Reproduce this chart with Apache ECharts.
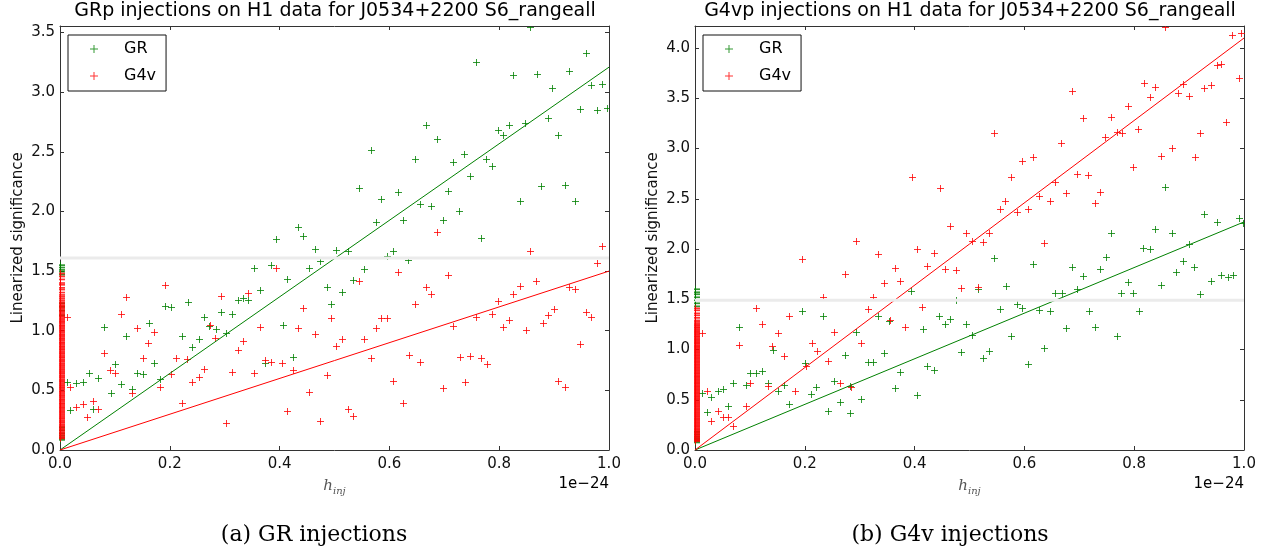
<!DOCTYPE html>
<html><head><meta charset="utf-8">
<script src="https://cdn.jsdelivr.net/npm/echarts@6/dist/echarts.min.js"></script>
<style>html,body{margin:0;padding:0;background:#fff}#c{width:1261px;height:550px}</style>
</head><body><div id="c"></div>
<script>
// ---------- data (h_inj in units of 1e-24, linearized significance) ----------
const xTicks = [0.0, 0.2, 0.4, 0.6, 0.8, 1.0];
const titleA = 'GRp injections on H1 data for J0534+2200 S6_rangeall';
const titleB = 'G4vp injections on H1 data for J0534+2200 S6_rangeall';
const captionA = '(a) GR injections';
const captionB = '(b) G4v injections';
const yMaxA = 3.555, yMaxB = 4.22;
const fitA = {GR: 3.21, G4v: 1.50};
const fitB = {GR: 2.27, G4v: 4.10};
const threshA = 1.61, threshB = 1.49;

// panel (a) GR injections
const aGR = [[0.434,1.87],[0.393,1.773],[0.443,1.792],[0.464,1.686],[0.474,1.583],[0.502,1.68],[0.353,1.53],[0.384,1.555],[0.454,1.53],[0.414,1.435],[0.486,1.368],[0.364,1.34],[0.324,1.256],[0.333,1.276],[0.343,1.256],[0.233,1.242],[0.191,1.206],[0.202,1.195],[0.293,1.159],[0.313,1.139],[0.263,1.117],[0.272,1.039],[0.284,1.011],[0.162,1.066],[0.081,1.033],[0.406,1.047],[0.494,1.22],[0.302,0.977],[0.222,0.955],[0.121,0.958],[0.253,0.927],[0.241,0.86],[0.100,0.72],[0.172,0.731],[0.424,0.782],[0.373,0.731],[0.052,0.648],[0.070,0.606],[0.141,0.648],[0.152,0.634],[0.012,0.572],[0.030,0.564],[0.041,0.572],[0.111,0.553],[0.132,0.508],[0.092,0.48],[0.183,0.592],[0.019,0.335],[0.061,0.341],
[0.959,3.328],[0.757,3.252],[0.826,3.146],[0.868,3.155],[0.928,3.177],[0.897,3.037],[0.968,3.063],[0.988,3.065],[0.996,2.867],[0.947,2.859],[0.978,2.848],[0.888,2.786],[0.666,2.728],[0.817,2.722],[0.847,2.744],[0.798,2.686],[0.807,2.638],[0.908,2.638],[0.686,2.61],[0.566,2.518],[0.647,2.437],[0.716,2.415],[0.736,2.479],[0.776,2.437],[0.787,2.379],[0.747,2.295],[0.545,2.2],[0.616,2.164],[0.877,2.214],[0.919,2.219],[0.585,2.105],[0.706,2.172],[0.838,2.088],[0.938,2.088],[0.656,2.06],[0.675,2.049],[0.727,2.007],[0.576,1.912],[0.625,1.926],[0.697,1.926],[0.767,1.778],[0.525,1.669],[0.595,1.628],[0.606,1.669],[0.634,1.597],[0.554,1.521],[0.534,1.424],[0.514,1.326],[0.856,3.546]];
const aG4v = [[0.191,1.382],[0.120,1.279],[0.293,1.293],[0.342,1.32],[0.393,1.522],[0.012,1.117],[0.111,1.139],[0.141,1.027],[0.172,0.991],[0.273,1.047],[0.364,1.033],[0.434,1.019],[0.443,1.187],[0.464,0.969],[0.494,1.108],[0.161,0.899],[0.282,0.941],[0.333,0.916],[0.324,0.838],[0.081,0.81],[0.152,0.768],[0.211,0.768],[0.231,0.759],[0.373,0.754],[0.384,0.74],[0.404,0.731],[0.091,0.67],[0.100,0.642],[0.263,0.678],[0.313,0.656],[0.353,0.642],[0.424,0.67],[0.202,0.637],[0.486,0.628],[0.019,0.525],[0.253,0.609],[0.241,0.567],[0.182,0.53],[0.132,0.48],[0.454,0.489],[0.061,0.413],[0.030,0.363],[0.041,0.385],[0.070,0.341],[0.050,0.274],[0.222,0.396],[0.414,0.329],[0.302,0.223],[0.474,0.246],[0.503,0.875],
[0.686,1.829],[0.856,1.667],[0.988,1.709],[0.978,1.569],[0.616,1.494],[0.706,1.466],[0.545,1.415],[0.666,1.368],[0.675,1.312],[0.867,1.418],[0.838,1.374],[0.826,1.307],[0.928,1.368],[0.938,1.354],[0.647,1.22],[0.798,1.251],[0.585,1.103],[0.595,1.103],[0.757,1.117],[0.787,1.139],[0.899,1.181],[0.888,1.131],[0.958,1.159],[0.968,1.111],[0.576,1.027],[0.716,1.041],[0.807,1.033],[0.817,1.089],[0.848,1.005],[0.879,1.066],[0.514,0.927],[0.554,0.93],[0.947,0.888],[0.566,0.768],[0.635,0.796],[0.656,0.74],[0.728,0.776],[0.747,0.79],[0.767,0.768],[0.777,0.72],[0.606,0.581],[0.737,0.572],[0.697,0.522],[0.908,0.581],[0.919,0.525],[0.625,0.396],[0.525,0.341],[0.534,0.285]];
// points at h_inj = 0 (significance values only)
const aGR0 = [1.55,1.53,1.51,1.495,1.47,1.23,1.2,1.17,1.13,0.19,0.165,0.14,0.12,0.1,0.085];
const aG4v0 = [1.48,1.455,1.43,1.40,1.385,1.36,1.345,1.32,1.30,1.285,1.27,1.255,1.24,1.228,1.215,1.206,1.194,1.183,1.17,1.161,1.149,1.138,1.125,1.116,1.104,1.092,1.081,1.072,1.06,1.047,1.038,1.026,1.015,1.003,0.994,0.982,0.969,0.961,0.949,0.937,0.928,0.916,0.903,0.895,0.883,0.871,0.862,0.849,0.84,0.828,0.816,0.807,0.795,0.782,0.774,0.761,0.75,0.741,0.728,0.717,0.706,0.695,0.683,0.672,0.661,0.649,0.64,0.627,0.616,0.606,0.593,0.582,0.573,0.561,0.549,0.538,0.527,0.517,0.505,0.493,0.484,0.471,0.46,0.45,0.438,0.426,0.417,0.405,0.393,0.384,0.371,0.36,0.351,0.338,0.327,0.317,0.305,0.294,0.283,0.271,0.262,0.25,0.238,0.229,0.216,0.205,0.195,0.183,0.172,0.162,0.15,0.139,0.13,0.117,0.106,0.097];

// panel (b) G4v injections
const bGR = [[0.393,1.582],[0.194,1.383],[0.233,1.333],[0.333,1.333],[0.353,1.287],[0.081,1.221],[0.294,1.177],[0.415,1.201],[0.444,1.333],[0.455,1.254],[0.464,1.3],[0.494,1.254],[0.142,0.995],[0.274,0.945],[0.201,0.862],[0.315,0.879],[0.324,0.879],[0.344,0.962],[0.485,0.978],[0.423,0.836],[0.435,0.796],[0.374,0.773],[0.100,0.77],[0.112,0.77],[0.122,0.786],[0.070,0.663],[0.092,0.647],[0.133,0.663],[0.162,0.647],[0.253,0.687],[0.152,0.587],[0.221,0.624],[0.212,0.554],[0.283,0.637],[0.042,0.587],[0.051,0.607],[0.012,0.57],[0.030,0.531],[0.061,0.441],[0.364,0.614],[0.405,0.547],[0.171,0.458],[0.264,0.481],[0.303,0.504],[0.021,0.375],[0.242,0.391],[0.283,0.371],[0.476,1.49],
[0.856,2.614],[0.928,2.345],[0.950,2.265],[0.990,2.305],[0.999,2.255],[0.757,2.156],[0.838,2.199],[0.868,2.163],[0.816,2.007],[0.828,1.997],[0.900,2.046],[0.545,1.907],[0.616,1.847],[0.748,1.917],[0.888,1.884],[0.686,1.818],[0.737,1.798],[0.707,1.731],[0.877,1.774],[0.909,1.818],[0.788,1.668],[0.940,1.682],[0.959,1.741],[0.970,1.718],[0.980,1.741],[0.566,1.635],[0.516,1.602],[0.656,1.566],[0.668,1.566],[0.696,1.602],[0.776,1.566],[0.798,1.566],[0.848,1.642],[0.920,1.552],[0.556,1.4],[0.586,1.449],[0.596,1.41],[0.627,1.393],[0.646,1.383],[0.718,1.383],[0.808,1.383],[0.505,1.144],[0.576,1.134],[0.676,1.211],[0.728,1.221],[0.768,1.134],[0.636,1.018],[0.525,0.919],[0.536,0.985],[0.606,0.852]];
const bG4v = [[0.395,2.713],[0.446,2.61],[0.464,2.232],[0.494,2.156],[0.294,2.08],[0.194,1.897],[0.404,1.997],[0.333,1.95],[0.435,1.963],[0.423,1.834],[0.455,1.798],[0.475,1.791],[0.274,1.751],[0.364,1.808],[0.344,1.658],[0.374,1.685],[0.485,1.609],[0.233,1.519],[0.324,1.519],[0.315,1.4],[0.414,1.426],[0.112,1.41],[0.171,1.333],[0.122,1.254],[0.355,1.294],[0.383,1.227],[0.253,1.177],[0.152,1.167],[0.012,1.161],[0.213,1.068],[0.081,1.045],[0.141,1.035],[0.222,0.985],[0.303,1.061],[0.163,0.939],[0.243,0.886],[0.203,0.839],[0.183,0.59],[0.101,0.663],[0.133,0.64],[0.264,0.67],[0.284,0.624],[0.022,0.587],[0.092,0.438],[0.041,0.391],[0.051,0.332],[0.061,0.332],[0.030,0.292],[0.070,0.242],
[0.979,4.129],[0.995,4.146],[0.856,4.206],[0.950,3.831],[0.959,3.841],[0.990,3.698],[0.818,3.655],[0.838,3.609],[0.828,3.509],[0.888,3.642],[0.879,3.556],[0.899,3.522],[0.928,3.605],[0.940,3.632],[0.686,3.572],[0.788,3.423],[0.707,3.307],[0.757,3.317],[0.807,3.191],[0.968,3.264],[0.545,3.151],[0.747,3.111],[0.768,3.161],[0.777,3.151],[0.920,3.158],[0.667,3.051],[0.868,3.008],[0.848,2.929],[0.910,2.912],[0.596,2.876],[0.616,2.919],[0.798,2.819],[0.576,2.72],[0.696,2.743],[0.716,2.736],[0.656,2.663],[0.627,2.531],[0.737,2.564],[0.676,2.561],[0.565,2.481],[0.646,2.478],[0.728,2.454],[0.556,2.395],[0.586,2.365],[0.606,2.395],[0.504,2.083],[0.525,2.073],[0.536,2.156],[0.636,2.056],[0.515,1.619]];
const bGR0 = [1.6,1.57,1.55,1.52,1.49,1.46,1.43,0.18,0.155,0.13,0.11,0.09,0.075];
const bG4v0 = [1.41,1.39,1.36,1.34,1.315,1.29,1.275,1.26,1.247,1.236,1.223,1.214,1.201,1.19,1.178,1.169,1.156,1.145,1.133,1.124,1.111,1.1,1.09,1.078,1.067,1.057,1.044,1.033,1.023,1.011,1.0,0.99,0.978,0.968,0.956,0.945,0.935,0.923,0.912,0.902,0.889,0.879,0.868,0.856,0.846,0.835,0.823,0.813,0.801,0.791,0.78,0.768,0.758,0.746,0.735,0.725,0.713,0.702,0.692,0.68,0.669,0.659,0.647,0.636,0.626,0.614,0.603,0.593,0.581,0.57,0.56,0.548,0.537,0.527,0.515,0.504,0.494,0.482,0.471,0.461,0.449,0.438,0.428,0.416,0.405,0.395,0.383,0.372,0.362,0.35,0.339,0.329,0.317,0.306,0.296,0.284,0.273,0.263,0.251,0.24,0.23,0.218,0.207,0.197,0.185,0.174,0.164,0.152,0.141,0.131,0.119,0.108,0.098,0.087];

// ---------- styling ----------
const GREEN = 'rgba(0,128,0,0.8)';
const RED = 'rgba(255,0,0,0.8)';
const FONT = 'DejaVu Sans';
const AXIS = '#333';
const plusIcon = 'path://M0,3.5h8v1h-8z M3.5,0h1v8h-1z';
const grids = [
  {left: 60, top: 26, width: 549, height: 424},
  {left: 695, top: 26, width: 549, height: 424}
];

function xAxes(gi) {
  const base = {type: 'value', gridIndex: gi, min: xTicks[0], max: xTicks[xTicks.length - 1], interval: 0.2,
    splitLine: {show: false},
    axisLine: {show: true, onZero: false, lineStyle: {color: AXIS, width: 1}},
    axisTick: {show: true, inside: true, length: 4, lineStyle: {color: AXIS}}};
  return [
    Object.assign({}, base, {position: 'bottom',
      name: '{h|h}{s|inj}', nameLocation: 'middle', nameGap: 27, nameMoveOverlap: false,
      nameTextStyle: {rich: {
        h: {fontFamily: 'DejaVu Serif', fontStyle: 'italic', fontSize: 15, color: '#555'},
        s: {fontFamily: 'DejaVu Serif', fontStyle: 'italic', fontSize: 10, color: '#555', padding: [9, 0, 0, 0]}}},
      axisLabel: {show: true, margin: 7, fontSize: 15, fontFamily: FONT, color: '#111',
        formatter: v => v.toFixed(1)}}),
    Object.assign({}, base, {position: 'top', axisLabel: {show: false}})
  ];
}
function yAxes(gi, ymax) {
  const base = {type: 'value', gridIndex: gi, min: 0, max: ymax, interval: 0.5,
    splitLine: {show: false},
    axisLine: {show: true, onZero: false, lineStyle: {color: AXIS, width: 1}},
    axisTick: {show: true, inside: true, length: 4, lineStyle: {color: AXIS}}};
  return [
    Object.assign({}, base, {position: 'left',
      name: 'Linearized significance', nameLocation: 'middle', nameGap: 34, nameMoveOverlap: false,
      nameTextStyle: {fontSize: 15, fontFamily: FONT, color: '#111'},
      axisLabel: {show: true, margin: 5, fontSize: 15, fontFamily: FONT, color: '#111', showMaxLabel: false,
        formatter: v => (Math.abs(v / 0.5 - Math.round(v / 0.5)) < 1e-6 ? v.toFixed(1) : '')}}),
    Object.assign({}, base, {position: 'right', axisLabel: {show: false}})
  ];
}

// '+' markers, clipped to the plot area like matplotlib markers
function plusSeries(name, data, color, gi, dense) {
  const hw = dense ? 1.7 : 1;
  return {type: 'custom', name, xAxisIndex: gi * 2, yAxisIndex: gi * 2, data, clip: true, z: 2, silent: true,
    itemStyle: {color}, lineStyle: {width: 0.01}, encode: {x: 0, y: 1},
    renderItem(params, api) {
      const p = api.coord([api.value(0), api.value(1)]);
      const cx = Math.round(p[0]) + 0.5;
      const cy = dense ? p[1] : Math.round(p[1]) + 0.5;
      const r = dense ? 4.5 : 3.5;
      return {type: 'group', children: [
        {type: 'line', shape: {x1: cx - r, y1: cy, x2: cx + r, y2: cy}, style: {stroke: color, lineWidth: hw}},
        {type: 'line', shape: {x1: cx, y1: cy - 3.5, x2: cx, y2: cy + 3.5}, style: {stroke: color, lineWidth: 1}}
      ]};
    }};
}
function lineSeries(name, data, color, gi, width, z) {
  return {type: 'line', name, xAxisIndex: gi * 2, yAxisIndex: gi * 2, data, showSymbol: false, symbol: 'none',
    lineStyle: {color, width}, itemStyle: {color}, z, silent: true};
}
function legendFor(left) {
  return {left, top: 35, orient: 'vertical', selectedMode: false, align: 'left',
    data: [{name: 'GR', icon: plusIcon, itemStyle: {color: GREEN}}, {name: 'G4v', icon: plusIcon, itemStyle: {color: RED}}],
    itemWidth: 8, itemHeight: 8, itemGap: 9, padding: [5, 10, 6, 22],
    borderColor: '#111', borderWidth: 1, backgroundColor: '#fff', borderRadius: 0,
    textStyle: {fontSize: 16, fontFamily: FONT, color: '#000', lineHeight: 18, padding: [0, 0, 0, 21]}, z: 10};
}
const zeroPts = ys => ys.map(y => [0, y]);

const series = [
  plusSeries('GR', aGR, GREEN, 0, false),
  plusSeries('GR', zeroPts(aGR0), GREEN, 0, true),
  plusSeries('G4v', aG4v, RED, 0, false),
  plusSeries('G4v', zeroPts(aG4v0), RED, 0, true),
  lineSeries('fitGR', [[0, 0], [1, fitA.GR]], '#008000', 0, 1, 3),
  lineSeries('fitG4v', [[0, 0], [1, fitA.G4v]], '#ff0000', 0, 1, 3),
  lineSeries('thresh', [[0, threshA], [1, threshA]], '#ebebeb', 0, 3, 5),
  plusSeries('GR', bGR, GREEN, 1, false),
  plusSeries('GR', zeroPts(bGR0), GREEN, 1, true),
  plusSeries('G4v', bG4v, RED, 1, false),
  plusSeries('G4v', zeroPts(bG4v0), RED, 1, true),
  lineSeries('fitGR', [[0, 0], [1, fitB.GR]], '#008000', 1, 1, 3),
  lineSeries('fitG4v', [[0, 0], [1, fitB.G4v]], '#ff0000', 1, 1, 3),
  lineSeries('thresh', [[0, threshB], [1, threshB]], '#ebebeb', 1, 3, 5)
];

function txt(text, x, y, font, align) {
  return {type: 'text', x, y, z: 20, silent: true,
    style: {text, font, fill: '#000', align: align, textAlign: align, verticalAlign: 'middle', textVerticalAlign: 'middle'}};
}

const chart = echarts.init(document.getElementById('c'), null, {renderer: 'canvas'});
chart.setOption({
  animation: false,
  backgroundColor: '#fff',
  grid: grids,
  xAxis: [...xAxes(0), ...xAxes(1)],
  yAxis: [...yAxes(0, yMaxA), ...yAxes(1, yMaxB)],
  legend: [legendFor(68), legendFor(703)],
  tooltip: {show: false},
  series,
  graphic: [
    txt(titleA, 335, 11, '19px "DejaVu Sans"', 'center'),
    txt(titleB, 970, 11, '19px "DejaVu Sans"', 'center'),
    txt('1e\u221224', 609, 484, '15px "DejaVu Sans"', 'right'),
    txt('1e\u221224', 1244, 484, '15px "DejaVu Sans"', 'right'),
    txt(captionA, 314, 535, '22px "DejaVu Serif"', 'center'),
    txt(captionB, 950, 535, '22px "DejaVu Serif"', 'center')
  ]
});
</script>
</body></html>
